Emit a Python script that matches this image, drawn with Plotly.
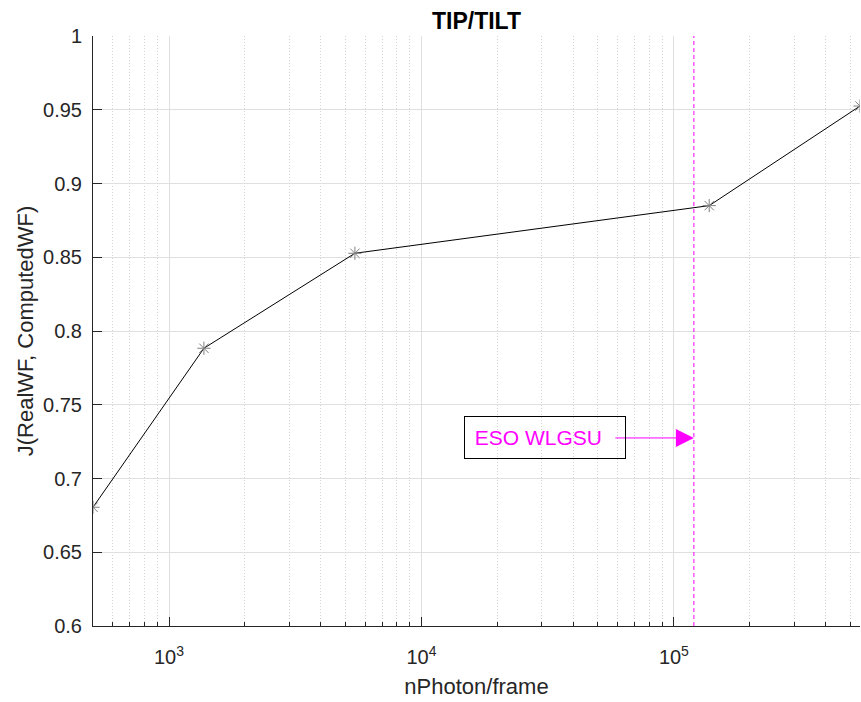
import math
import plotly.graph_objects as go

# Data
n_photon = [500, 1375, 5450, 138000, 546000]
j_value = [0.6805, 0.7883, 0.8527, 0.885, 0.9525]
eso_wlgsu_x = 1.2e5
annot_y = 0.7275
annot_text_x = 30850

x_tickvals = [1e3, 1e4, 1e5]
x_ticktext = ["10<sup>3</sup>", "10<sup>4</sup>", "10<sup>5</sup>"]
x_minor_vals = [600, 700, 800, 900,
                2000, 3000, 4000, 5000, 6000, 7000, 8000, 9000,
                20000, 30000, 40000, 50000, 60000, 70000, 80000, 90000,
                200000, 300000, 400000, 500000]
y_tickvals = [0.6, 0.65, 0.7, 0.75, 0.8, 0.85, 0.9, 0.95, 1.0]
y_ticktext = ["0.6", "0.65", "0.7", "0.75", "0.8", "0.85", "0.9", "0.95", "1"]

FONT = "Liberation Sans, Arial, Helvetica, sans-serif"
AXC = "#262626"
GRID = "#dfdfdf"
MINOR = "#d4d4d4"

fig = go.Figure()
fig.add_trace(go.Scatter(
    x=n_photon, y=j_value, mode="lines+markers",
    line=dict(color="black", width=1),
    marker=dict(symbol="asterisk-open", size=11, color="#808080",
                line=dict(color="#808080", width=1)),
    showlegend=False,
))

fig.add_shape(type="line", xref="x", yref="paper",
              x0=eso_wlgsu_x, x1=eso_wlgsu_x, y0=0, y1=1,
              line=dict(color="#ff00ff", width=1, dash="4px,3px"))

# Arrow
fig.add_annotation(x=math.log10(eso_wlgsu_x), y=annot_y, xref="x", yref="y",
                   ax=-80, ay=0, axref="pixel", ayref="pixel",
                   text="", showarrow=True, arrowhead=2, arrowsize=3.6,
                   arrowwidth=1, arrowcolor="#ff00ff")
# Text box
fig.add_annotation(x=math.log10(annot_text_x), y=annot_y, xref="x", yref="y",
                   text="\u00a0ESO WLGSU", showarrow=False,
                   font=dict(family=FONT, size=21, color="#ff00ff"),
                   bordercolor="black", borderwidth=1, borderpad=4,
                   width=152, height=33, align="left", bgcolor="rgba(0,0,0,0)")

fig.update_layout(
    width=861, height=702,
    margin=dict(l=93, r=1, t=36, b=76),
    paper_bgcolor="white", plot_bgcolor="white",
    font=dict(family=FONT, size=20, color=AXC),
    title=dict(text="<b>TIP/TILT</b>", x=0.5, xref="paper",
               xanchor="center", y=1 - 21 / 702, yanchor="middle",
               font=dict(family=FONT, size=23, color="black")),
)

fig.update_xaxes(
    type="log", range=[math.log10(n_photon[0]), math.log10(n_photon[-1])],
    tickvals=x_tickvals, ticktext=x_ticktext,
    ticks="inside", ticklen=9, tickcolor=AXC, tickwidth=1,
    ticklabelstandoff=13,
    showline=True, linecolor=AXC, linewidth=1, mirror=False,
    showgrid=True, gridcolor=GRID, gridwidth=1,
    minor=dict(tickvals=x_minor_vals, ticks="inside", ticklen=4.5, tickcolor=AXC,
               showgrid=True, gridcolor=MINOR, griddash="1px,2px", gridwidth=1),
    zeroline=False,
    title=dict(text="nPhoton/frame", font=dict(family=FONT, size=22, color=AXC), standoff=11),
    tickfont=dict(family=FONT, size=20, color=AXC),
)
fig.update_yaxes(
    range=[0.6, 1.0], tickvals=y_tickvals, ticktext=y_ticktext,
    ticks="inside", ticklen=9, tickcolor=AXC, tickwidth=1,
    ticklabelstandoff=6,
    showline=True, linecolor=AXC, linewidth=1, mirror=False,
    showgrid=True, gridcolor=GRID, gridwidth=1, zeroline=False,
    title=dict(text="J(RealWF, ComputedWF)", font=dict(family=FONT, size=22, color=AXC), standoff=3),
    tickfont=dict(family=FONT, size=20, color=AXC),
)

fig.write_html("out.html", config={"displayModeBar": False},
               post_script="document.body.style.margin='0px';")
